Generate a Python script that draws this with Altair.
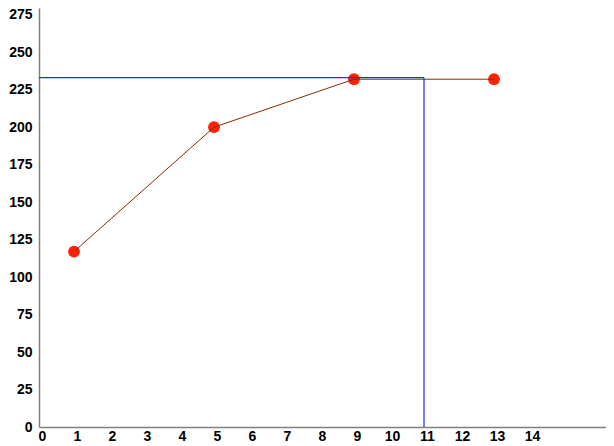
"""Line with markers plus a blue crosshair reference at x=11"""

import altair as alt
import pandas as pd

# data
x_values = [1, 5, 9, 13]
y_values = [117, 200, 232, 232]
ref_x = 11
ref_y = 233

x_ticks = list(range(0, 15))
y_ticks = list(range(0, 276, 25))

LINE_COLOR = "#8b2a00"
POINT_COLOR = "#ff2200"
REF_COLOR = "#1133ff"
FONT = "Liberation Sans"

df = pd.DataFrame({"x": x_values, "y": y_values})
ref_h = pd.DataFrame({"x": [0], "x2": [ref_x], "y": [ref_y]})
ref_v = pd.DataFrame({"x": [ref_x], "y": [0], "y2": [ref_y]})

x_scale = alt.Scale(domain=[0, 16.2], nice=False, zero=False)
y_scale = alt.Scale(domain=[0, 279.5], nice=False)

x_axis = alt.Axis(values=x_ticks, title=None, grid=False, ticks=False,
                  labelPadding=2, labelOffset=3, labelFlush=False,
                  labelOverlap=False)
y_axis = alt.Axis(values=y_ticks, title=None, grid=False, ticks=False,
                  labelPadding=7, labelFlush=False, labelOverlap=False)

base = alt.Chart(df).encode(
    x=alt.X("x:Q", scale=x_scale, axis=x_axis),
    y=alt.Y("y:Q", scale=y_scale, axis=y_axis),
)

points = base.mark_point(filled=True, shape="circle", size=140,
                         color=POINT_COLOR, opacity=1)
line = base.mark_line(color=LINE_COLOR, strokeWidth=1)

# blue crosshair, same axes so the layers merge cleanly
h_rule = alt.Chart(ref_h).mark_rule(color=REF_COLOR, strokeWidth=1.2).encode(
    x=alt.X("x:Q", scale=x_scale, axis=x_axis), x2="x2:Q",
    y=alt.Y("y:Q", scale=y_scale, axis=y_axis)
)
v_rule = alt.Chart(ref_v).mark_rule(color=REF_COLOR, strokeWidth=1.2).encode(
    x=alt.X("x:Q", scale=x_scale, axis=x_axis),
    y=alt.Y("y:Q", scale=y_scale, axis=y_axis), y2="y2:Q"
)

chart = (points + line + h_rule + v_rule).properties(
    width=567,
    height=419,
    autosize=alt.AutoSizeParams(type="none"),
    padding={"left": 31, "top": 0, "right": 0, "bottom": 16},
).configure_view(
    stroke=None
).configure_axis(
    domainColor="#808080",
    domainWidth=1.5,
    labelFont=FONT,
    labelFontSize=14,
    labelFontWeight="bold",
    labelColor="#000000",
    labelOverlap=False,
)

chart.save("out.html", embed_options={"renderer": "svg", "actions": False})
